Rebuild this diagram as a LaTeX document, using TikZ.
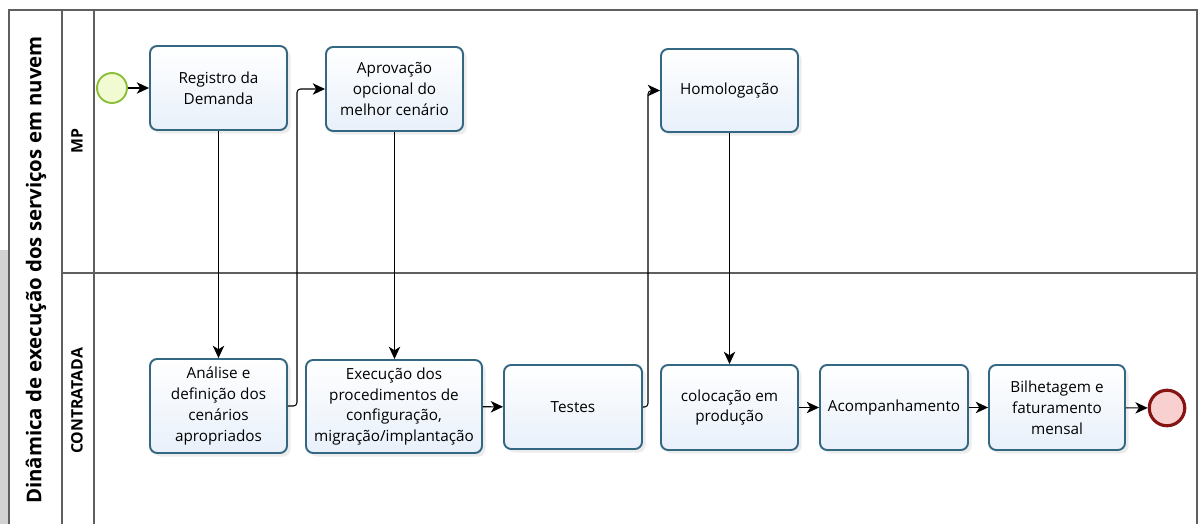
\documentclass[tikz,border=0pt]{standalone}
\usepackage{fontspec}
\setmainfont{Open Sans}
\usepackage{tikz}
\usetikzlibrary{shapes.geometric, arrows.meta, shadows}
\usepackage{color,xcolor}

\definecolor{taskborder}{RGB}{52,104,130}
\definecolor{taskfill}{RGB}{232,240,250}
\definecolor{startborder}{RGB}{140,190,60}
\definecolor{startfill}{RGB}{242,250,210}
\definecolor{endborder}{RGB}{135,20,20}
\definecolor{endfill}{RGB}{248,208,208}
\definecolor{poolline}{RGB}{95,95,95}

\tikzset{
  task/.style={draw=taskborder, line width=1.1pt, rounded corners=4pt, top color=white, bottom color=taskfill,
    drop shadow={opacity=0.15, shadow xshift=2pt, shadow yshift=-2pt}, align=center, inner sep=2pt,
    font=\fontsize{8.7}{11.9}\selectfont},
  startev/.style={circle, draw=startborder, line width=1.1pt, fill=startfill, minimum size=0.6cm, inner sep=0pt},
  endev/.style={circle, draw=endborder, line width=1.8pt, fill=endfill, minimum size=0.71cm, inner sep=0pt},
  flow/.style={-{Stealth[length=7pt, width=6.5pt, inset=2pt]}, line width=0.6pt, black, rounded corners=2pt},
  lanetext/.style={rotate=90, font=\bfseries\fontsize{9}{11}\selectfont}
}

\begin{document}
\begin{tikzpicture}[x=0.02cm, y=-0.02cm]
    \useasboundingbox (0,0) rectangle (1200,524);
    \fill[gray!35] (0,250) rectangle (8,524);
    \draw[poolline, line width=0.9pt] (9,524) -- (9,10) -- (1197,10) -- (1197,524);
    \draw[poolline, line width=0.9pt] (62,10) -- (62,524) (94,10) -- (94,524) (62,273) -- (1197,273);
    \node[rotate=90, font=\bfseries\fontsize{11.6}{13}\selectfont] (title) at (36,270) {Dinâmica de execução dos serviços em nuvem};
    \node[lanetext] (mp) at (77,141) {MP};
    \node[lanetext] (contratada) at (77,401) {CONTRATADA};

    \node[startev] (inicio) at (112,88) {};
    \node[task, minimum width=2.74cm, minimum height=1.68cm] (registro) at (218.5,88) {Registro da\\Demanda};
    \node[task, minimum width=2.74cm, minimum height=1.68cm] (aprovacao) at (394.5,89) {Aprovação\\opcional do\\melhor cenário};
    \node[task, minimum width=2.74cm, minimum height=1.66cm] (homologacao) at (729.5,90.5) {Homologação};
    \node[task, minimum width=2.74cm, minimum height=1.88cm] (analise) at (218.5,406) {Análise e\\definição dos\\cenários\\apropriados};
    \node[task, minimum width=3.52cm, minimum height=1.86cm] (execucao) at (394,406.5) {Execução dos\\procedimentos de\\configuração,\\migração/implantação};
    \node[task, minimum width=2.76cm, minimum height=1.68cm] (testes) at (573,407) {Testes};
    \node[task, minimum width=2.74cm, minimum height=1.70cm] (colocacao) at (729.5,407.5) {colocação em\\produção};
    \node[task, minimum width=2.96cm, minimum height=1.70cm] (acompanhamento) at (894,407.5) {Acompanhamento};
    \node[task, minimum width=2.72cm, minimum height=1.70cm] (bilhetagem) at (1057,407.5) {Bilhetagem e\\faturamento\\mensal};
    \node[endev] (fim) at (1167,408) {};

    \coordinate (dobra1) at (297,406);
    \coordinate (dobra2) at (648,407);
    \draw[flow] (inicio) -- (registro);
    \draw[flow] (registro) -- (analise);
    \draw[flow] (analise.east) -- (dobra1) |- (aprovacao.west);
    \draw[flow] (aprovacao) -- (aprovacao |- execucao.north);
    \draw[flow] (execucao) -- (testes);
    \draw[flow] (testes.east) -- (dobra2) |- (homologacao.west);
    \draw[flow] (homologacao) -- (colocacao);
    \draw[flow] (colocacao) -- (acompanhamento);
    \draw[flow] (acompanhamento) -- (bilhetagem);
    \draw[flow] (bilhetagem) -- (fim);
\end{tikzpicture}
\end{document}
